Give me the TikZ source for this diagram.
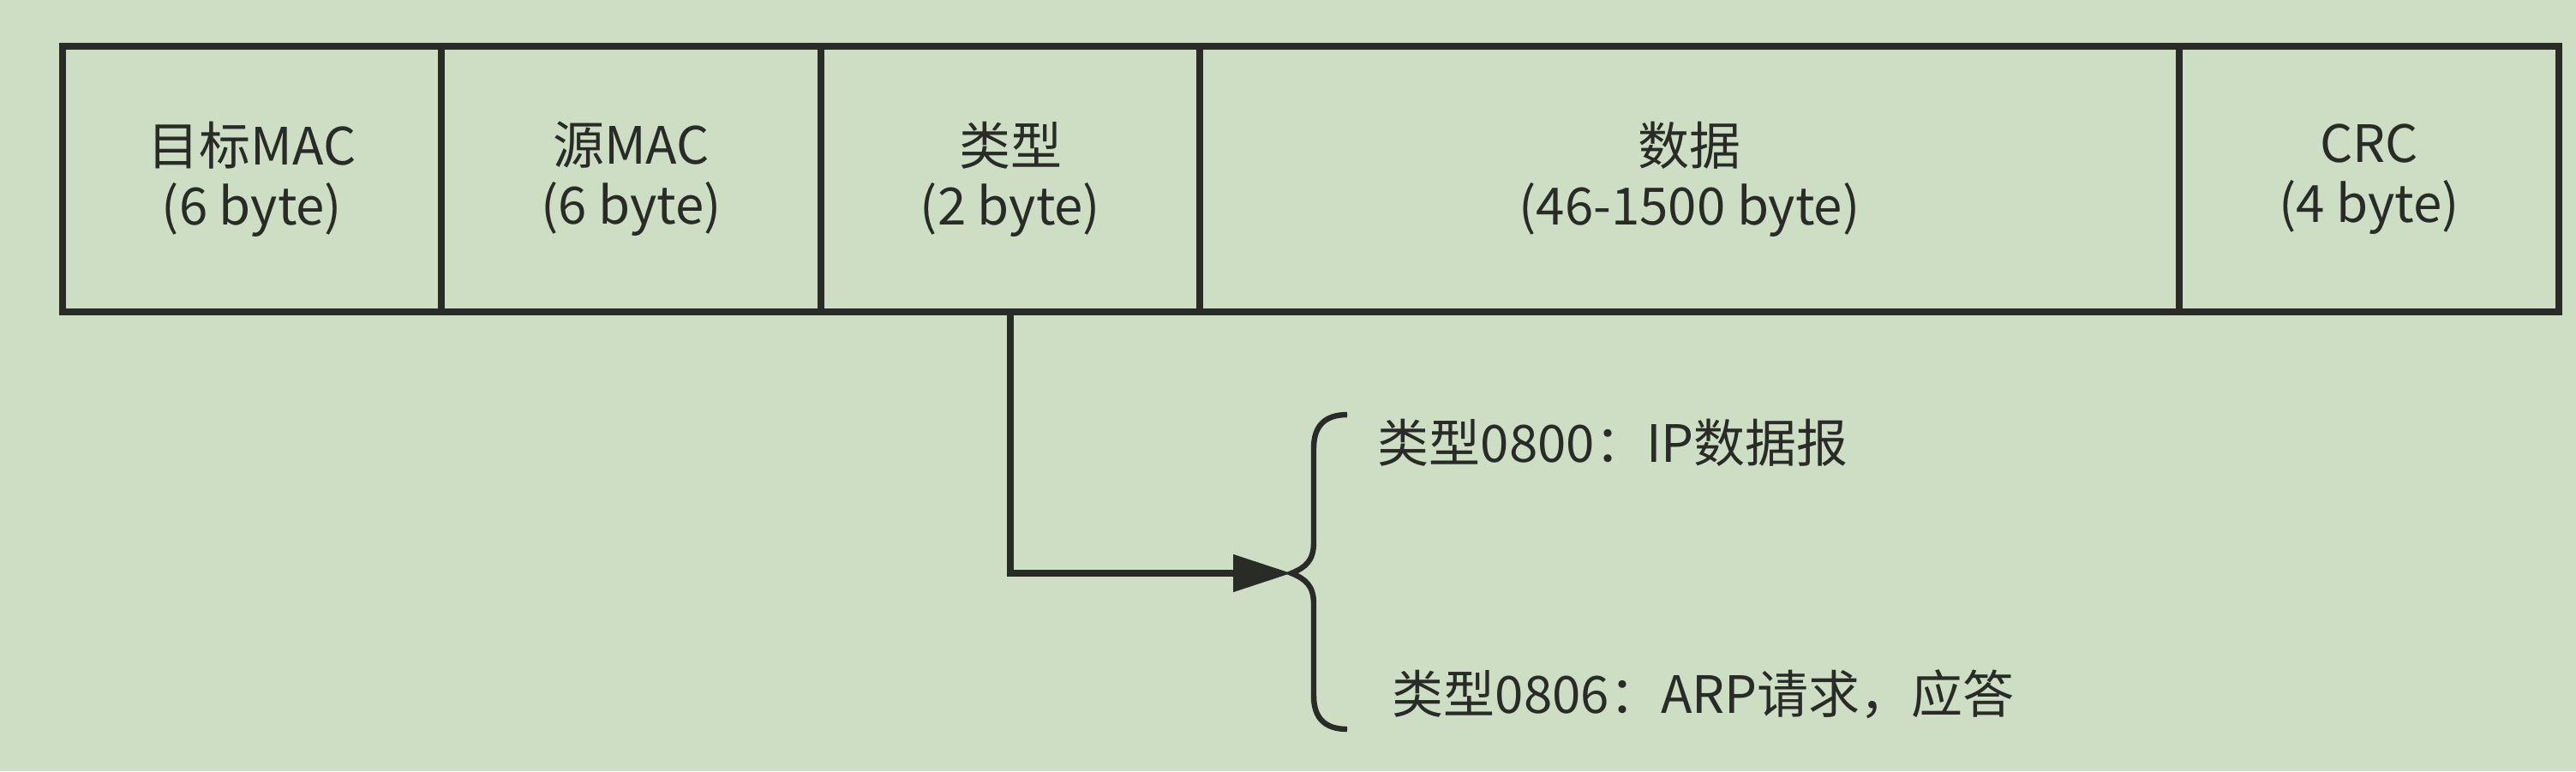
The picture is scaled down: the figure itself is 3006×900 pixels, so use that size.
\documentclass[tikz,border=0pt]{standalone}
\usepackage{fontspec}
\setmainfont{Noto Sans CJK SC}
\usetikzlibrary{arrows.meta}
\definecolor{bgc}{RGB}{205,222,196}
\definecolor{ink}{RGB}{40,43,38}
\tikzset{
  field/.style={draw=ink, line width=2pt, rectangle, minimum height=77.5pt,
    inner sep=0pt, align=center, text=ink,
    font=\fontsize{15pt}{17.5pt}\selectfont},
  conn/.style={draw=ink, line width=2pt, -{Triangle[length=17pt,width=10.5pt]}},
  bracepath/.style={draw=ink, line width=1.6pt},
  note/.style={anchor=west, inner sep=0pt, text=ink,
    font=\fontsize{15pt}{17.5pt}\selectfont}
}
\begin{document}
\begin{tikzpicture}[x=0.25pt,y=-0.25pt]
\fill[bgc] (0,0) rectangle (3006,900);
\useasboundingbox (0,0) rectangle (3006,900);

\node[field, minimum width=110.5pt]  (f1) at (294,209)    {目标MAC\\(6 byte)};
\node[field, minimum width=110.75pt] (f2) at (736.5,209)  {源MAC\\(6 byte)};
\node[field, minimum width=110.5pt]  (f3) at (1179,209)   {类型\\(2 byte)};
\node[field, minimum width=285.75pt] (f4) at (1971.5,209) {数据\\(46-1500 byte)};
\node[field, minimum width=110.75pt] (f5) at (2764.5,209) {CRC\\(4 byte)};

\coordinate (tip) at (1507,669);
\coordinate (btop) at (1572,484);
\coordinate (bbot) at (1572,851);

\draw[bracepath] (btop) .. controls (1546,484) and (1533,497) .. (1533,523)
  -- (1533,633) .. controls (1533,654) and (1524,662) .. (tip)
  .. controls (1524,676) and (1533,684) .. (1533,705)
  -- (1533,812) .. controls (1533,838) and (1546,851) .. (bbot);

\draw[conn] (f3.south) |- (tip);

\node[note] (t1) at (1607,517) {类型0800：IP数据报};
\node[note] (t2) at (1624,810) {类型0806：ARP请求，应答};
\end{tikzpicture}
\end{document}
